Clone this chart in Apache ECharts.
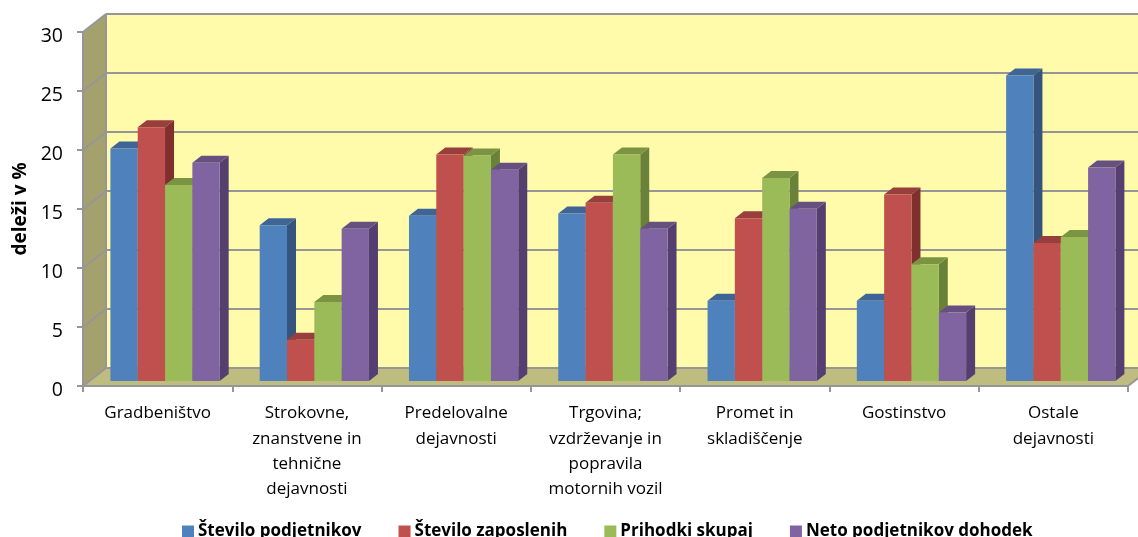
<!DOCTYPE html>
<html>
<head>
<meta charset="utf-8">
<style>
  html, body { margin: 0; padding: 0; background: #fff; overflow: hidden; }
  #chart { width: 1138px; height: 537px; }
</style>
<script src="https://cdn.jsdelivr.net/npm/echarts@6/dist/echarts.min.js"></script>
</head>
<body>
<div id="chart"></div>
<script>
var categories = ['Gradbeništvo', 'Strokovne,\nznanstvene in\ntehnične\ndejavnosti', 'Predelovalne\ndejavnosti',
  'Trgovina;\nvzdrževanje in\npopravila\nmotornih vozil', 'Promet in\nskladiščenje', 'Gostinstvo', 'Ostale\ndejavnosti'];
var seriesNames = ['Število podjetnikov', 'Število zaposlenih', 'Prihodki skupaj', 'Neto podjetnikov dohodek'];
var podjetniki = [19.7, 13.2, 14.0, 14.2, 6.8, 6.8, 25.9];
var zaposleni = [21.5, 3.5, 19.2, 15.1, 13.8, 15.8, 11.7];
var prihodki = [16.6, 6.7, 19.1, 19.2, 17.2, 9.9, 12.2];
var dohodek = [18.5, 12.9, 17.9, 12.9, 14.6, 5.8, 18.1];
var yTicks = [0, 5, 10, 15, 20, 25, 30];

// barve: spredaj, zgoraj, desno
var faces = [
  ['#4f81bd', '#3e6596', '#35557f'],
  ['#c0504d', '#983e3c', '#7f2f2d'],
  ['#9bbb59', '#7a9444', '#6a8139'],
  ['#8064a2', '#655080', '#553f70']
];
var font = '"Open Sans"';
var wallDepth = [23, -18];   // globina sten
var barShift = [7.4, -5];    // stolpci stojijo sredi tal
var barDepth = [9, -7];
var barShare = 0.183;

function shifted(p, d) {
  return [p[0] + d[0], p[1] + d[1]];
}

function renderWalls(params, api) {
  var c = [];
  var a = api.coord([0, 0]);
  var band = api.size([1, 0])[0];
  var x0 = a[0] - band / 2;
  var x1 = x0 + band * categories.length;
  var bottom = a[1];
  var top = api.coord([0, 30])[1];
  var bl = [x0, bottom], br = [x1, bottom], tl = [x0, top];
  var gray = { stroke: '#969696', lineWidth: 2 };
  function poly(pts, fill) {
    c.push({ type: 'polygon', shape: { points: pts }, style: { fill: fill } });
  }
  function line(p, q) {
    c.push({ type: 'line', shape: { x1: p[0], y1: p[1], x2: q[0], y2: q[1] }, style: gray });
  }
  poly([shifted(bl, wallDepth), shifted(br, wallDepth), shifted([x1, top], wallDepth), shifted(tl, wallDepth)], '#fffbab');
  poly([bl, tl, shifted(tl, wallDepth), shifted(bl, wallDepth)], '#a5a16e');
  poly([bl, br, shifted(br, wallDepth), shifted(bl, wallDepth)], '#bfbc80');
  yTicks.forEach(function (t) {
    var y = api.coord([0, t])[1];
    line([x0, y], shifted([x0, y], wallDepth));
    line(shifted([x0, y], wallDepth), shifted([x1, y], wallDepth));
  });
  line(shifted(bl, wallDepth), shifted(tl, wallDepth));
  line(br, shifted(br, wallDepth));
  return { type: 'group', children: c };
}

function makeBars(idx) {
  return function (params, api) {
    var cat = api.value(0);
    var val = api.value(1);
    var band = api.size([1, 0])[0];
    var w = band * barShare;
    var base = api.coord([cat, 0]);
    var head = api.coord([cat, val]);
    var left = base[0] + barShift[0] - 2 * w + idx * w;
    var y0 = base[1] + barShift[1];
    var y1 = head[1] + barShift[1];
    var f = faces[idx];
    var tl = [left, y1], tr = [left + w, y1], br = [left + w, y0], bl = [left, y0];
    return {
      type: 'group',
      children: [
        { type: 'polygon', shape: { points: [tr, br, shifted(br, barDepth), shifted(tr, barDepth)] }, style: { fill: f[2] } },
        { type: 'polygon', shape: { points: [tl, tr, shifted(tr, barDepth), shifted(tl, barDepth)] }, style: { fill: f[1] } },
        { type: 'polygon', shape: { points: [tl, tr, br, bl] }, style: { fill: f[0] } }
      ]
    };
  };
}

var values = [podjetniki, zaposleni, prihodki, dohodek];
var series = [{
  name: 'stene',
  type: 'custom',
  silent: true,
  clip: false,
  z: 1,
  renderItem: renderWalls,
  data: [[0, 0]],
  encode: { x: 0, y: 1 }
}];
seriesNames.forEach(function (name, i) {
  series.push({
    name: name,
    type: 'custom',
    clip: false,
    z: 2,
    itemStyle: { color: faces[i][0] },
    renderItem: makeBars(i),
    data: values[i].map(function (v, k) { return [k, v]; }),
    encode: { x: 0, y: 1 }
  });
});

var chart = echarts.init(document.getElementById('chart'), null, { renderer: 'canvas' });
chart.setOption({
  animation: false,
  backgroundColor: '#fff',
  textStyle: { fontFamily: font },
  grid: { left: 83, right: 10, top: 32, height: 354, containLabel: false },
  legend: {
    data: seriesNames,
    left: 182,
    top: 523,
    padding: 0,
    itemWidth: 12,
    itemHeight: 12,
    itemGap: 37,
    icon: 'rect',
    selectedMode: false,
    textStyle: { fontFamily: font, fontWeight: 'bold', fontSize: 17, color: '#000', padding: [0, 0, 0, -1] }
  },
  xAxis: {
    type: 'category',
    data: categories,
    boundaryGap: true,
    z: 5,
    axisLine: { lineStyle: { color: '#969696', width: 2 } },
    axisTick: { show: true, length: 6, lineStyle: { color: '#969696', width: 2 } },
    axisLabel: { interval: 0, color: '#000', fontSize: 17, lineHeight: 25.3, margin: 15, fontFamily: font }
  },
  yAxis: {
    type: 'value',
    min: 0,
    max: 30,
    interval: 5,
    z: 5,
    name: 'deleži v %',
    nameLocation: 'middle',
    nameRotate: 90,
    nameGap: 52,
    nameTextStyle: { color: '#000', fontWeight: 'bold', fontSize: 19, fontFamily: font },
    axisLine: { show: true, lineStyle: { color: '#969696', width: 2 } },
    axisTick: { show: true, length: 6, lineStyle: { color: '#969696', width: 2 } },
    axisLabel: { color: '#000', fontSize: 19.5, margin: 20, verticalAlign: 'top', padding: [-6, 0, 0, 0], fontFamily: font },
    splitLine: { show: false }
  },
  series: series
});
</script>
</body>
</html>
